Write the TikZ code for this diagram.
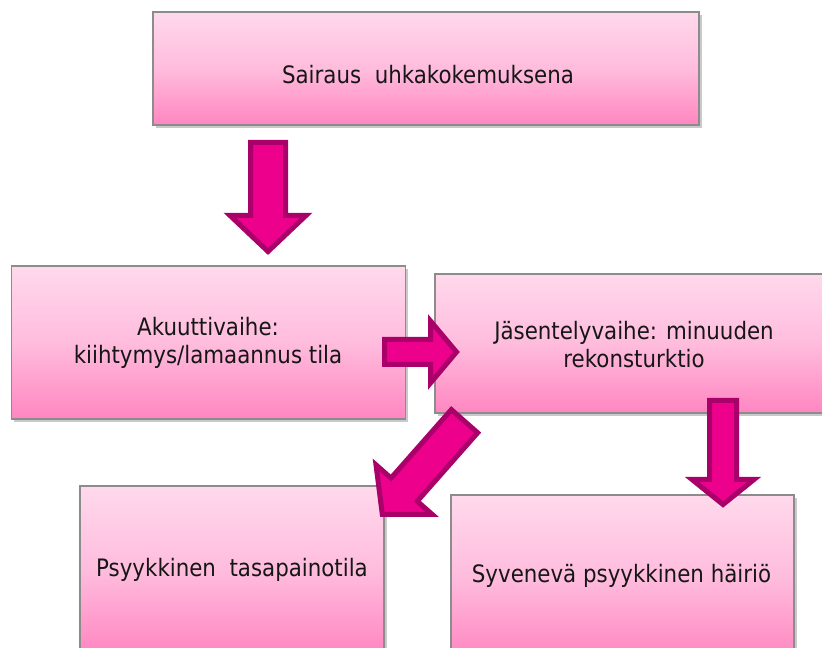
\documentclass[tikz,border=0pt]{standalone}
\usepackage{fontspec}
\setmainfont{DejaVu Sans}[FakeStretch=0.89]
\usetikzlibrary{calc,shadows}
\definecolor{boxtop}{HTML}{FFD9EC}
\definecolor{boxmid}{HTML}{FFBCDD}
\definecolor{boxbot}{HTML}{FF86C1}
\definecolor{boxline}{HTML}{8C8C8C}
\definecolor{arrfill}{HTML}{EC008C}
\definecolor{arrline}{HTML}{AA006A}
\definecolor{txt}{HTML}{161616}
\newdimen\px \px=0.75pt
\tikzset{
 pbox/.style={rectangle, draw=boxline, line width=1.1pt, top color=boxtop, bottom color=boxbot, middle color=boxmid, inner sep=0pt,
   drop shadow={shadow xshift=2pt, shadow yshift=-2.5pt, opacity=0.35, fill=black!60}},
 ptext/.style={align=center, text=txt, font=\fontsize{18}{21}\selectfont, inner sep=0pt},
 blockarrow/.style={fill=arrfill, draw=arrline, line width=3.75pt, line join=miter}
}
% #1 tail, #2 tip, #3 shaft half width, #4 head half width, #5 head length (px), #6 prefix
\newcommand\mkarrow[6]{%
  \coordinate (#6b) at ($(#2)!#5\px!(#1)$);
  \draw[blockarrow] ($(#1)!#3\px!90:(#2)$) -- ($(#6b)!#3\px!90:(#2)$) -- ($(#6b)!#4\px!90:(#2)$) -- (#2)
     -- ($(#6b)!#4\px!-90:(#2)$) -- ($(#6b)!#3\px!-90:(#2)$) -- ($(#1)!#3\px!-90:(#2)$) -- cycle;
}
\begin{document}
\begin{tikzpicture}[x=\px, y=-\px]
\fill[white] (0,0) rectangle (822,648);
\useasboundingbox (0,0) rectangle (822,648);
\clip (0,0) rectangle (822,648);

% boxes
\node[pbox, minimum width=546\px, minimum height=113\px] (top) at (426,68.5) {};
\node[pbox, minimum width=394\px, minimum height=153\px] (acute) at (208.5,342.5) {};
\node[pbox, minimum width=396\px, minimum height=139\px] (recon) at (633,343.5) {};
\node[pbox, minimum width=304\px, minimum height=168\px] (balance) at (232,570) {};
\node[pbox, minimum width=343\px, minimum height=164\px] (disorder) at (622.5,577) {};

% texts
\node[ptext] (ttop) at (428,75) {Sairaus\ \ uhkakokemuksena};
\node[ptext] (tacute) at (208,343) {Akuuttivaihe:\\kiihtymys/lamaannus tila};
\node[ptext] (trecon) at (634,345) {Jäsentelyvaihe: minuuden\\rekonsturktio};
\node[ptext] (tbalance) at (232,570) {Psyykkinen\ \ tasapainotila};
\node[ptext] (tdisorder) at (621.5,576) {Syvenevä psyykkinen häiriö};

% block arrows
\coordinate (a1t) at (268,142.5);
\coordinate (a1p) at (268,251.5);
\mkarrow{a1t}{a1p}{17.5}{38}{36}{a1}

\coordinate (a2t) at (384.5,352);
\coordinate (a2p) at (456.5,352);
\mkarrow{a2t}{a2p}{12.5}{31}{26}{a2}

\coordinate (a3t) at (464.5,421.2);
\coordinate (a3p) at (382.3,514.4);
\mkarrow{a3t}{a3p}{17.5}{37.5}{33}{a3}

\coordinate (a4t) at (723,400.5);
\coordinate (a4p) at (723,504.5);
\mkarrow{a4t}{a4p}{13.5}{31}{25}{a4}
\end{tikzpicture}
\end{document}
